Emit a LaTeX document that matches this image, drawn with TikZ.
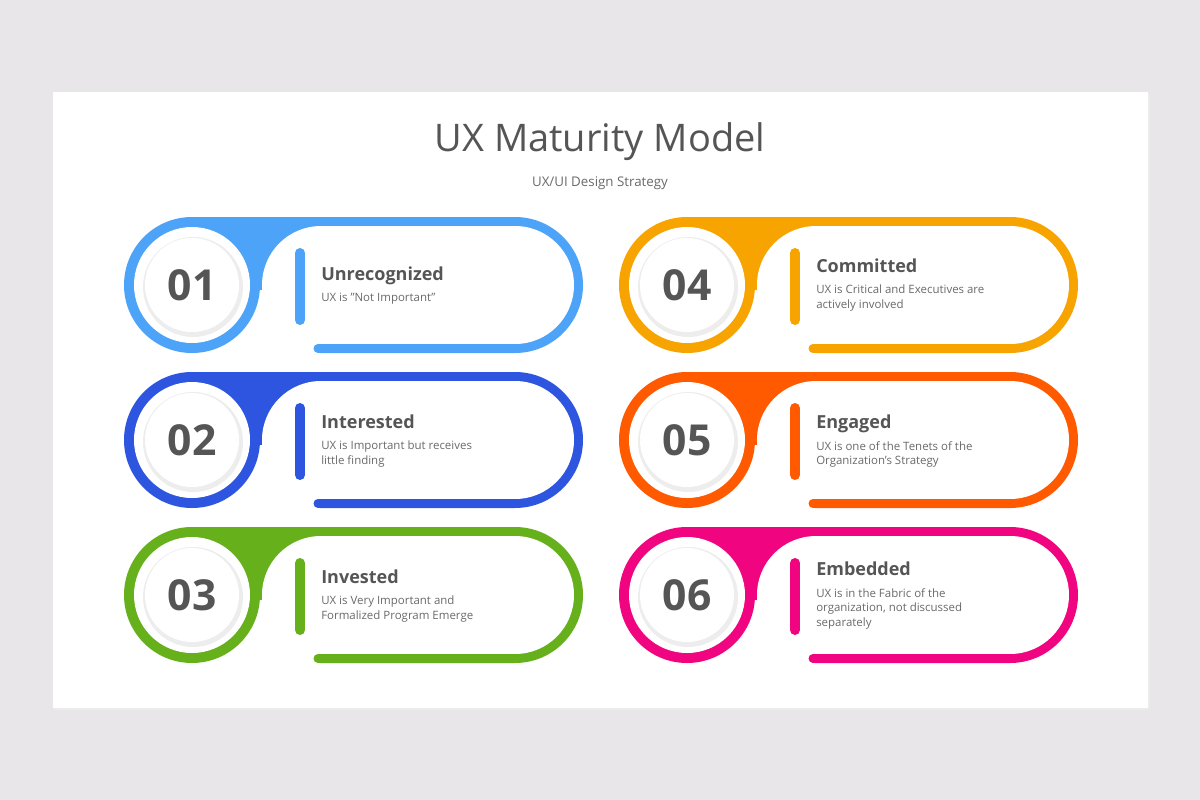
\documentclass[tikz,border=0pt]{standalone}
\usepackage{fontspec}
\setmainfont{Open Sans}
\definecolor{bgray}{HTML}{E8E6E8}
\definecolor{tgray}{HTML}{555555}
\definecolor{dgray}{HTML}{6A6A6A}
\definecolor{cA}{HTML}{4DA3F7}
\definecolor{cB}{HTML}{2D55E0}
\definecolor{cC}{HTML}{66B01C}
\definecolor{cD}{HTML}{F7A400}
\definecolor{cE}{HTML}{FF5A00}
\definecolor{cF}{HTML}{F0047F}
\tikzset{
  numtext/.style={font=\fontsize{32}{32}\selectfont\bfseries, text=tgray},
  headtext/.style={anchor=base west, font=\fontsize{13.5}{14}\selectfont\bfseries, text=tgray, inner sep=0pt},
  desctext/.style={anchor=north west, align=left, font=\fontsize{8.6}{11.2}\selectfont, text=dgray, inner sep=0pt},
}
% card: center x, center y, colour, number, title, title y, text
\newcommand{\uxcard}[7]{%
  \begin{scope}[shift={(#1,#2)}]
    \fill[#3] (0,-68) [rounded corners=51pt] -- (391,-68) -- (391,68) [sharp corners] -- (0,68) -- cycle;
    \fill[white] (0,5) rectangle (128,75);
    \fill[white, rounded corners=44.25pt] (70,-59) rectangle (382,59);
    \draw[#3, line width=6.75pt, line cap=round] (126,63.5) -- (323,63.5);
    \fill[#3] (0,0) circle[radius=68];
    \fill[white] (0,0) circle[radius=58];
    \fill[black!7] (1,2) circle[radius=50];
    \fill[white] (0,0) circle[radius=47];
    \draw[#3, line width=7.5pt, line cap=round] (108,-32) -- (108,35);
    \node[numtext] (n#4) at (0,0) {#4};
    \node[headtext] (h#4) at (129,#6) {#5};
    \node[desctext] (d#4) at (129,#6+13) {#7};
  \end{scope}}
\begin{document}
\begin{tikzpicture}[x=0.75pt, y=-0.75pt]
  \fill[bgray] (0,0) rectangle (1200,800);
  \fill[black!8] (54,94) rectangle (1150,710);
  \fill[white] (53,92) rectangle (1148,708);
  \node[font=\fontsize{28.5}{30}\selectfont, text=tgray] (title) at (600,142) {UX Maturity Model};
  \node[font=\fontsize{10}{12}\selectfont, text=dgray] (subtitle) at (600,183) {UX/UI Design Strategy};
  \uxcard{192}{285}{cA}{01}{Unrecognized}{-5}{UX is "Not Important"}
  \uxcard{192}{440}{cB}{02}{Interested}{-12}{UX is Important but receives\\little finding}
  \uxcard{192}{595}{cC}{03}{Invested}{-12}{UX is Very Important and\\Formalized Program Emerge}
  \uxcard{687}{285}{cD}{04}{Committed}{-13}{UX is Critical and Executives are\\actively involved}
  \uxcard{687}{440}{cE}{05}{Engaged}{-12}{UX is one of the Tenets of the\\Organization's Strategy}
  \uxcard{687}{595}{cF}{06}{Embedded}{-20}{UX is in the Fabric of the\\organization, not discussed\\separately}
\end{tikzpicture}
\end{document}
